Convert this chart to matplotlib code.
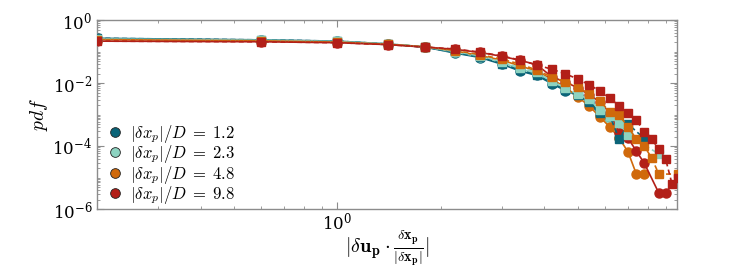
import numpy as np
import matplotlib
matplotlib.use("Agg")
import matplotlib.pyplot as plt
from matplotlib.lines import Line2D
from matplotlib.ticker import LogLocator, NullFormatter, FixedLocator

plt.rcParams["mathtext.fontset"] = "cm"
plt.rcParams["font.family"] = "DejaVu Serif"

# bin centres of |du . dx/|dx||
bins = [0.2, 0.6, 1.0, 1.4, 1.8, 2.2, 2.6, 3.0, 3.4, 3.8, 4.2, 4.6, 5.0,
        5.4, 5.8, 6.2, 6.6, 7.0, 7.4, 7.8, 8.2, 8.6, 9.0, 9.4, 9.8]

separations = ["1.2", "2.3", "4.8", "9.8"]
colours = ["#0b6478", "#8dd3c1", "#d0690b", "#b21f18"]

nan = np.nan
# log10(pdf), circles (solid lines)
circ_12 = [-0.58, -0.63, -0.67, -0.76, -0.86, -1.05, -1.19, -1.40, -1.62, -1.76,
           -2.02, -2.24, -2.40, -2.62, -3.02, -3.15, -3.75, nan, nan, nan,
           nan, nan, nan, nan, nan]
circ_23 = [-0.60, -0.64, -0.68, -0.76, -0.85, -1.02, -1.16, -1.34, -1.56, -1.70,
           -1.98, -2.20, -2.40, -2.56, -2.92, -3.17, -3.46, -3.65, nan, nan,
           nan, nan, nan, nan, nan]
circ_48 = [-0.62, -0.66, -0.70, -0.77, -0.85, -0.98, -1.13, -1.27, -1.46, -1.62,
           -1.88, -2.13, -2.44, -2.73, -3.08, -3.40, -3.75, -4.19, -4.89, -4.89,
           nan, nan, nan, nan, nan]
circ_98 = [-0.67, -0.69, -0.72, -0.78, -0.86, -0.93, -1.03, -1.15, -1.28, -1.42,
           -1.80, -1.97, -2.15, -2.37, -2.60, -2.95, -3.59, -3.75, -4.16, -4.54,
           nan, -5.49, -5.49, nan, nan]

# log10(pdf), squares (dashed lines)
sq_12 = [-0.58, -0.63, -0.67, -0.76, -0.86, -1.03, -1.17, -1.38, -1.60, -1.74,
         -2.00, -2.22, -2.38, -2.60, -2.95, -3.05, -3.78, -3.30, nan, -3.76,
         nan, nan, nan, nan, nan]
sq_23 = [-0.60, -0.64, -0.68, -0.76, -0.85, -1.00, -1.14, -1.32, -1.52, -1.66,
         -1.94, -2.15, -2.36, -2.52, -2.85, -3.05, -3.27, -3.65, nan, nan,
         nan, -4.25, nan, nan, nan]
sq_48 = [-0.62, -0.66, -0.70, -0.77, -0.85, -0.97, -1.10, -1.24, -1.40, -1.59,
         -1.81, -1.97, -2.13, -2.35, -2.57, -2.92, -3.02, -3.40, -3.78, -4.00,
         -4.38, -4.89, nan, nan, -4.89]
sq_98 = [-0.67, -0.69, -0.72, -0.78, -0.86, -0.92, -1.02, -1.14, -1.27, -1.43,
         -1.56, -1.71, -1.87, -2.06, -2.25, -2.48, -2.73, -2.95, -3.17, -3.56,
         -3.78, -4.10, -4.41, -5.21, -5.02]

circles = [circ_12, circ_23, circ_48, circ_98]
squares = [sq_12, sq_23, sq_48, sq_98]

fig = plt.figure(figsize=(7.47, 2.67), dpi=100)
ax = fig.add_axes([0.130, 0.217, 0.776, 0.708])

x = np.array(bins)
for logp, c in zip(circles, colours):
    y = 10.0 ** np.array(logp)
    ok = ~np.isnan(y)
    ax.plot(x[ok], y[ok], "-o", color=c, lw=1.2, ms=6.5, mec=c, zorder=2)
for logp, c in zip(squares, colours):
    y = 10.0 ** np.array(logp)
    ok = ~np.isnan(y)
    ax.plot(x[ok], y[ok], "--s", color=c, lw=1.2, ms=5.8, mec=c,
            dashes=(3, 2), zorder=3)

ax.set_xscale("log")
ax.set_yscale("log")
ax.set_xlim(0.2, 9.7)
ax.set_ylim(1e-6, 1)

ax.yaxis.set_major_locator(FixedLocator([1e-6, 1e-4, 1e-2, 1]))
ax.yaxis.set_minor_locator(LogLocator(base=10, subs=np.arange(1, 10), numticks=20))
ax.yaxis.set_minor_formatter(NullFormatter())
ax.xaxis.set_minor_formatter(NullFormatter())

for s in ax.spines.values():
    s.set_color("#8c8c8c")
    s.set_linewidth(1.0)
ax.tick_params(which="both", direction="in", top=True, right=True,
               color="#8c8c8c", labelsize=12)
ax.tick_params(which="major", length=5)
ax.tick_params(which="minor", length=2.5)
ax.tick_params(axis="x", pad=2)

ax.set_ylabel(r"$pdf$", fontsize=14, labelpad=2)
ax.set_xlabel(r"$|\delta \mathbf{u_p} \cdot \frac{\delta \mathbf{x_p}}{|\delta \mathbf{x_p}|}|$",
              fontsize=14.5)
ax.xaxis.set_label_coords(0.5, -0.105)

handles = [Line2D([], [], ls="none", marker="o", ms=7, mfc=c, mec="#222222", mew=0.6)
           for c in colours]
labels = [r"$|\delta x_p|/D\;=\;%s$" % s for s in separations]
ax.legend(handles, labels, loc="lower left", bbox_to_anchor=(0.0, -0.045),
          frameon=False, fontsize=12, handlelength=0.8, handletextpad=0.5,
          labelspacing=-0.1, borderaxespad=0.3)

fig.savefig("out.png", dpi=100)
